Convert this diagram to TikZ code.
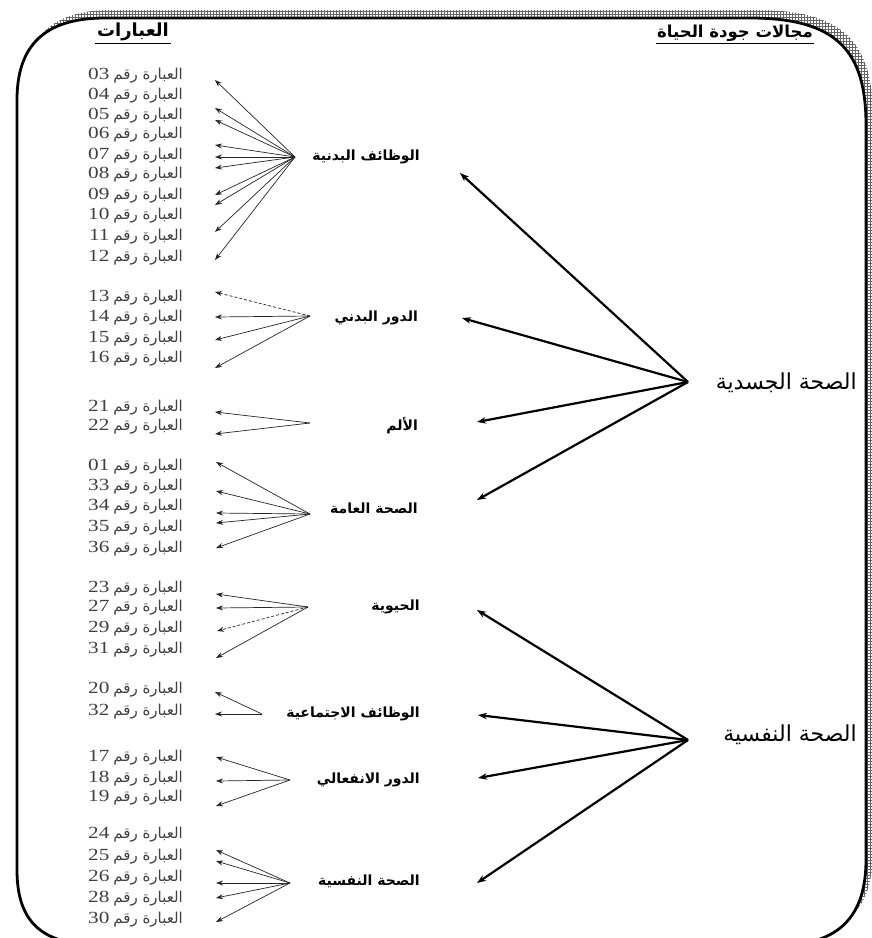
\documentclass[tikz,border=0pt]{standalone}
\usepackage{fontspec}
\usetikzlibrary{arrows.meta,patterns}
\TeXXeTstate=1
\newfontfamily\arabicfont[Script=Arabic]{DejaVu Sans}
\newfontfamily\numfont[FakeStretch=1.25]{Liberation Serif}
\definecolor{itemgray}{HTML}{404040}
\newcommand{\stmttext}[1]{{\numfont\fontsize{17}{17}\selectfont #1}\hspace{4pt}{\arabicfont\fontsize{15}{15}\selectfont\beginR العبارة رقم\endR}}
\tikzset{
  stmt/.style={anchor=east,inner sep=0pt,text=itemgray},
  sublabel/.style={anchor=east,inner sep=0pt,font=\arabicfont\bfseries\fontsize{14}{14}\selectfont},
  domlabel/.style={anchor=east,inner sep=0pt,font=\arabicfont\fontsize{22}{22}\selectfont},
  headlabel/.style={anchor=south,inner sep=1.5pt,font=\arabicfont\bfseries\fontsize{18}{18}\selectfont},
  thinarr/.style={-{Stealth[length=7pt,width=5pt]},line width=0.7pt,draw=black!85},
  thickarr/.style={-{Stealth[length=9pt,width=6.5pt]},line width=2.2pt},
  frameline/.style={line width=2.8pt},
}
\begin{document}
\begin{tikzpicture}[x=1pt,y=-1pt]
\useasboundingbox (0,0) rectangle (872,938);

% hatched shadow behind the rounded frame
\fill[pattern=grid,pattern color=black!60,shift={(7,-8)}]
  (17,870) -- (17,100) .. controls (17,45) and (45,18) .. (105,18)
  -- (750,18) .. controls (838,18) and (866,52) .. (866,125)
  -- (866,860) .. controls (866,915) and (840,945) .. (780,945)
  -- (100,945) .. controls (45,945) and (17,925) .. cycle;
% rounded frame
\draw[frameline,fill=white]
  (17,870) -- (17,100) .. controls (17,45) and (45,18) .. (105,18)
  -- (750,18) .. controls (838,18) and (866,52) .. (866,125)
  -- (866,860) .. controls (866,915) and (840,945) .. (780,945)
  -- (100,945) .. controls (45,945) and (17,925) .. cycle;

% column headings
\node[headlabel] (hstmt) at (133,43) {\beginR العبارات\endR};
\draw[line width=1pt] (hstmt.south west) -- (hstmt.south east);
\node[headlabel,font=\arabicfont\bfseries\fontsize{16.5}{17}\selectfont] (hdom) at (735,43) {\beginR مجالات جودة الحياة\endR};
\draw[line width=1pt] (hdom.south west) -- (hdom.south east);

% statements
\foreach \n/\y in {03/76,04/96,05/116,06/135,07/156,08/175,09/196,10/216,11/237,12/258,
                   13/298,14/318,15/339,16/359,
                   21/408,22/427,
                   01/467,33/487,34/507,35/528,36/549,
                   23/589,27/608,29/629,31/650,
                   20/690,32/712,
                   17/758,18/779,19/798,
                   24/835,25/857,26/878,28/899,30/920}
  \node[stmt] (s\n) at (183,\y) {\stmttext{\n}};

% sub-domains
\node[sublabel] (d1) at (420,157) {\beginR الوظائف البدنية\endR};
\node[sublabel] (d2) at (418,318) {\beginR الدور البدني\endR};
\node[sublabel] (d3) at (418,426) {\beginR الألم\endR};
\node[sublabel] (d4) at (418,508) {\beginR الصحة العامة\endR};
\node[sublabel] (d5) at (420,607) {\beginR الحيوية\endR};
\node[sublabel] (d6) at (420,714) {\beginR الوظائف الاجتماعية\endR};
\node[sublabel] (d7) at (420,780) {\beginR الدور الانفعالي\endR};
\node[sublabel] (d8) at (420,881) {\beginR الصحة النفسية\endR};

% hubs of the sub-domain fans
\coordinate (h1) at (295,157);
\coordinate (h2) at (310,316);
\coordinate (h3) at (310,423);
\coordinate (h4) at (310,514);
\coordinate (h5) at (308,607);
\coordinate (h6) at (262,714);
\coordinate (h7) at (290,780);
\coordinate (h8) at (290,883);

% sub-domain -> statements
\foreach \ty [count=\i] in {80,108,120,145,157,168,195,205,232,260}
  {\coordinate (a1-\i) at (215,\ty); \draw[thinarr] (h1) -- (a1-\i);}
\coordinate (a2-1) at (215,292); \draw[thinarr,densely dashed] (h2) -- (a2-1);
\foreach \ty [count=\i from 2] in {317,340,368}
  {\coordinate (a2-\i) at (215,\ty); \draw[thinarr] (h2) -- (a2-\i);}
\foreach \ty [count=\i] in {412,434}
  {\coordinate (a3-\i) at (215,\ty); \draw[thinarr] (h3) -- (a3-\i);}
\foreach \ty [count=\i] in {462,491,513,523,548}
  {\coordinate (a4-\i) at (216,\ty); \draw[thinarr] (h4) -- (a4-\i);}
\foreach \ty [count=\i] in {594,608}
  {\coordinate (a5-\i) at (216,\ty); \draw[thinarr] (h5) -- (a5-\i);}
\coordinate (a5-3) at (217,631); \draw[thinarr,densely dashed] (h5) -- (a5-3);
\coordinate (a5-4) at (216,658); \draw[thinarr] (h5) -- (a5-4);
\foreach \ty [count=\i] in {692,714}
  {\coordinate (a6-\i) at (215,\ty); \draw[thinarr] (h6) -- (a6-\i);}
\foreach \ty [count=\i] in {757,781,806}
  {\coordinate (a7-\i) at (216,\ty); \draw[thinarr] (h7) -- (a7-\i);}
\foreach \ty [count=\i] in {850,861,883,898,922}
  {\coordinate (a8-\i) at (216,\ty); \draw[thinarr] (h8) -- (a8-\i);}

% main domains
\node[domlabel] (phys) at (857,383) {\beginR الصحة الجسدية\endR};
\node[domlabel] (psych) at (857,735) {\beginR الصحة النفسية\endR};
\coordinate (P) at (688,382);
\coordinate (Q) at (688,740);
\foreach \tx/\ty [count=\i] in {460/173,462/318,477/422,477/500}
  {\coordinate (b1-\i) at (\tx,\ty); \draw[thickarr] (P) -- (b1-\i);}
\foreach \tx/\ty [count=\i] in {477/610,478/715,478/778,477/883}
  {\coordinate (b2-\i) at (\tx,\ty); \draw[thickarr] (Q) -- (b2-\i);}
\end{tikzpicture}
\end{document}
